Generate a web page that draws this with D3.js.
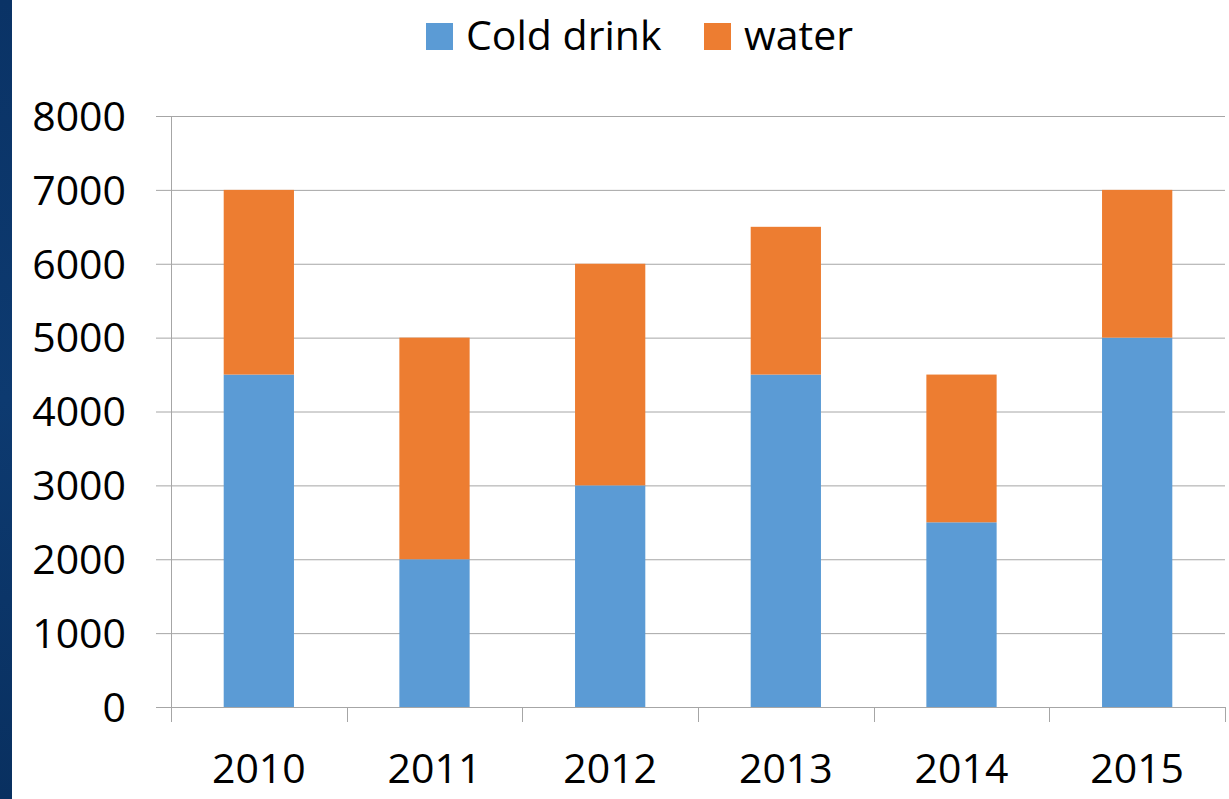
<!DOCTYPE html>
<html>
<head>
<meta charset="utf-8">
<script src="https://cdn.jsdelivr.net/npm/d3@7"></script>
<style>
  body { margin: 0; background: #fff; }
  text { font-family: "Open Sans", sans-serif; fill: #000; }
</style>
</head>
<body>
<script>
// chart data
const years = ["2010", "2011", "2012", "2013", "2014", "2015"];
const coldDrink = [4500, 2000, 3000, 4500, 2500, 5000];
const water = [2500, 3000, 3000, 2000, 2000, 2000];
const seriesNames = ["Cold drink", "water"];
const yTicks = [0, 1000, 2000, 3000, 4000, 5000, 6000, 7000, 8000];

const colors = ["#5B9BD5", "#ED7D31"];
const width = 1229, height = 799;
const margin = { left: 171, right: 4, top: 116, bottom: 92 };

const svg = d3.select("body").append("svg")
    .attr("width", width)
    .attr("height", height);

// dark strip on the left edge
const grad = svg.append("defs").append("linearGradient")
    .attr("id", "strip").attr("x1", 0).attr("y1", 0).attr("x2", 0).attr("y2", 1);
grad.append("stop").attr("offset", "0%").attr("stop-color", "#0a3366");
grad.append("stop").attr("offset", "50%").attr("stop-color", "#0d3a70");
grad.append("stop").attr("offset", "100%").attr("stop-color", "#093060");
svg.append("rect").attr("x", 0).attr("y", 0).attr("width", 12).attr("height", height)
    .attr("fill", "url(#strip)");

const x = d3.scaleBand()
    .domain(years)
    .range([margin.left, width - margin.right])
    .paddingInner(0.6).paddingOuter(0.3);

const xOuter = d3.scaleBand().domain(years).range([margin.left, width - margin.right]);

const y = d3.scaleLinear()
    .domain([0, 8000])
    .range([height - margin.bottom, margin.top]);

// gridlines
svg.append("g")
  .selectAll("line").data(yTicks).join("line")
    .attr("x1", margin.left - 15)
    .attr("x2", width - margin.right)
    .attr("y1", d => y(d) + 0.5)
    .attr("y2", d => y(d) + 0.5)
    .attr("stroke", "#a6a6a6")
    .attr("stroke-width", 1);

// y axis line
svg.append("line")
    .attr("x1", margin.left + 0.5).attr("x2", margin.left + 0.5)
    .attr("y1", y(8000)).attr("y2", y(0) + 15)
    .attr("stroke", "#a6a6a6");

// x tick marks at category boundaries
const boundaries = years.map(d => xOuter(d)).concat([width - margin.right]);
svg.append("g")
  .selectAll("line").data(boundaries).join("line")
    .attr("x1", d => Math.round(d) + 0.5)
    .attr("x2", d => Math.round(d) + 0.5)
    .attr("y1", y(0))
    .attr("y2", y(0) + 15)
    .attr("stroke", "#a6a6a6");

// stacked bars
const table = years.map((yr, i) => ({ year: yr, "Cold drink": coldDrink[i], "water": water[i] }));
const stacked = d3.stack().keys(seriesNames)(table);

svg.append("g")
  .selectAll("g").data(stacked).join("g")
    .attr("fill", (d, i) => colors[i])
  .selectAll("rect").data(d => d).join("rect")
    .attr("x", d => x(d.data.year))
    .attr("width", x.bandwidth())
    .attr("y", d => y(d[1]))
    .attr("height", d => y(d[0]) - y(d[1]));

// y labels
svg.append("g")
  .selectAll("text").data(yTicks).join("text")
    .attr("x", 126)
    .attr("y", d => y(d))
    .attr("dy", "0.36em")
    .attr("text-anchor", "end")
    .style("font-size", "41px")
    .text(d => d);

// x labels
svg.append("g")
  .selectAll("text").data(years).join("text")
    .attr("x", d => xOuter(d) + xOuter.bandwidth() / 2)
    .attr("y", 783)
    .attr("text-anchor", "middle")
    .style("font-size", "41px")
    .text(d => d);

// legend
const legendPos = [426, 704];
const legend = svg.append("g")
  .selectAll("g").data(seriesNames).join("g")
    .attr("transform", (d, i) => `translate(${legendPos[i]},0)`);
legend.append("rect")
    .attr("x", 0).attr("y", 23)
    .attr("width", 27).attr("height", 27)
    .attr("fill", (d, i) => colors[i]);
legend.append("text")
    .attr("x", 40).attr("y", 50)
    .style("font-size", "41px")
    .text(d => d);
</script>
</body>
</html>
